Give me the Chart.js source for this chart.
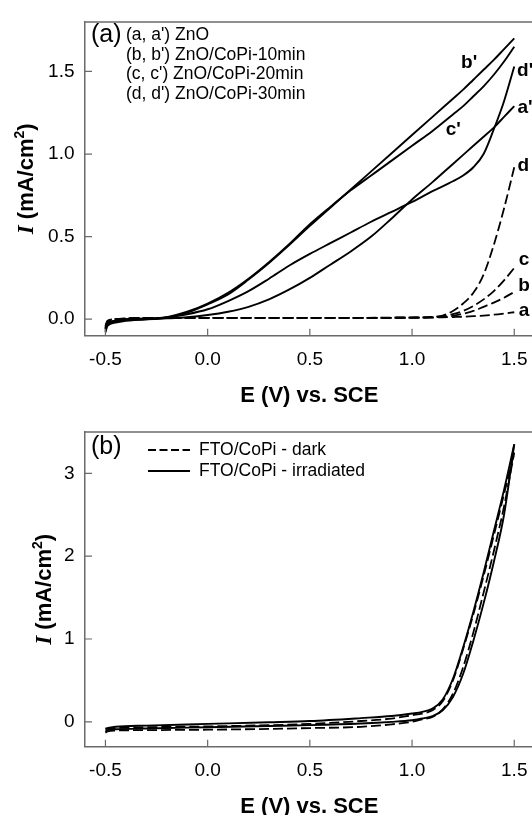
<!DOCTYPE html>
<html>
<head>
<meta charset="utf-8">
<script src="https://cdn.jsdelivr.net/npm/chart.js@4/dist/chart.umd.min.js"></script>
<style>
html,body{margin:0;padding:0;overflow:hidden;background:#fff;width:532px;height:815px;}
canvas{position:absolute;left:0;}
#ca{top:0;}
#cb{top:410px;}
</style>
</head>
<body>
<canvas id="ca" width="545" height="410" style="width:545px;height:410px"></canvas>
<canvas id="cb" width="545" height="405" style="width:545px;height:405px"></canvas>
<script>
// ---------------- DATA ----------------
// tick labels
const xTicks  = [-0.5, 0.0, 0.5, 1.0, 1.5];
const yTicksA = [0.0, 0.5, 1.0, 1.5];
const yTicksB = [0, 1, 2, 3];

// Panel (a): potential grid for irradiated (solid) curves, V vs SCE
const potLight = [-0.5,-0.49,-0.45,-0.4,-0.3,-0.2,-0.1,0,0.1,0.2,0.3,0.4,0.5,0.6,0.7,0.8,0.9,1.0,1.1,1.2,1.25,1.3,1.35,1.4,1.45,1.5];
const znoLight   = [-0.08,-0.04,-0.02,-0.01,0.0,0.005,0.012,0.025,0.045,0.075,0.12,0.18,0.25,0.33,0.41,0.50,0.61,0.725,0.83,0.94,0.995,1.05,1.105,1.16,1.225,1.29];   // a'
const copi10Light = [-0.06,-0.025,-0.01,0.0,0.003,0.01,0.04,0.09,0.15,0.24,0.34,0.45,0.565,0.675,0.785,0.895,1.005,1.115,1.225,1.335,1.39,1.45,1.51,1.57,1.635,1.70]; // b'
const copi20Light = [-0.06,-0.025,-0.01,0.0,0.003,0.012,0.045,0.095,0.16,0.245,0.345,0.455,0.575,0.68,0.78,0.87,0.96,1.05,1.14,1.24,1.29,1.35,1.41,1.48,1.56,1.65];   // c'
const copi30Light = [-0.07,-0.03,-0.015,-0.005,0.0,0.01,0.03,0.06,0.11,0.17,0.245,0.325,0.395,0.46,0.525,0.59,0.65,0.71,0.775,0.835,0.87,0.92,1.0,1.15,1.32,1.53];  // d'

// Panel (a): potential grid for dark (dashed) curves
const potDark = [-0.5,-0.49,-0.45,-0.4,-0.3,0,0.5,1.0,1.1,1.15,1.2,1.25,1.3,1.35,1.4,1.45,1.5];
const znoDark    = [-0.04,-0.01,0.0,0.004,0.006,0.008,0.008,0.009,0.01,0.011,0.013,0.015,0.018,0.022,0.027,0.034,0.042]; // a
const copi10Dark = [-0.045,-0.012,0.0,0.004,0.006,0.008,0.008,0.009,0.011,0.014,0.02,0.033,0.05,0.075,0.10,0.13,0.165]; // b
const copi20Dark = [-0.05,-0.015,0.0,0.004,0.006,0.008,0.008,0.009,0.012,0.017,0.03,0.05,0.08,0.12,0.17,0.235,0.31];    // c
const copi30Dark = [-0.055,-0.02,0.0,0.004,0.006,0.008,0.008,0.01,0.014,0.022,0.05,0.095,0.16,0.27,0.45,0.67,0.92];    // d

// Panel (b): FTO/CoPi, forward and reverse scans
const potB = [-0.5,-0.49,-0.45,-0.3,0,0.3,0.5,0.75,0.9,1.0,1.05,1.1,1.15,1.2,1.25,1.3,1.35,1.4,1.45,1.5];
const irrFwd  = [-0.12,-0.10,-0.09,-0.08,-0.065,-0.05,-0.04,-0.02,0.0,0.02,0.04,0.07,0.14,0.30,0.58,0.98,1.43,1.93,2.50,3.35];
const irrRev  = [-0.08,-0.075,-0.06,-0.045,-0.025,-0.005,0.01,0.045,0.07,0.10,0.12,0.16,0.27,0.52,0.90,1.33,1.80,2.30,2.80,3.35];
const darkFwd = [-0.13,-0.115,-0.105,-0.10,-0.095,-0.085,-0.075,-0.06,-0.03,0.0,0.03,0.06,0.15,0.34,0.66,1.08,1.56,2.06,2.60,3.25];
const darkRev = [-0.09,-0.085,-0.075,-0.065,-0.055,-0.04,-0.025,0.01,0.04,0.08,0.10,0.14,0.25,0.50,0.88,1.30,1.76,2.25,2.75,3.25];

// legend / curve label texts
const legendA = ["(a, a') ZnO", "(b, b') ZnO/CoPi-10min", "(c, c') ZnO/CoPi-20min", "(d, d') ZnO/CoPi-30min"];
const legendB = ["FTO/CoPi - dark", "FTO/CoPi - irradiated"];
const curveLabels = [
  {t:"b'", x:1.279, y:1.551}, {t:"d'", x:1.553, y:1.504}, {t:"c'", x:1.202, y:1.145},
  {t:"a'", x:1.553, y:1.28},  {t:"d",  x:1.544, y:0.928}, {t:"c",  x:1.548, y:0.357},
  {t:"b",  x:1.548, y:0.204}, {t:"a",  x:1.548, y:0.051}
];

// ---------------- STYLE / HELPERS ----------------
const FONT = '"Liberation Sans", Arial, Helvetica, sans-serif';
const SERIF = '"Liberation Serif", "Times New Roman", serif';
const AXIS = '#6a6a6a';
Chart.defaults.font.family = FONT;

function pts(xs, ys){ return xs.map((x,i)=>({x:x, y:ys[i]})); }
function ds(xs, ys, dashed){
  return { data: pts(xs, ys), borderColor:'#000', borderWidth: dashed ? 1.8 : 1.9,
           borderDash: dashed ? [10,4] : [], pointRadius:0, fill:false,
           cubicInterpolationMode:'monotone', showLine:true };
}

const decor = {
  id:'decor',
  afterDraw(chart, args, o){
    const {ctx, chartArea:ca} = chart;
    const xs = chart.scales.x, ys = chart.scales.y;
    ctx.save();
    // top frame line
    ctx.strokeStyle = AXIS; ctx.lineWidth = 1.5; ctx.setLineDash([]);
    ctx.beginPath(); ctx.moveTo(ca.left, ca.top); ctx.lineTo(ca.right, ca.top); ctx.stroke();
    // inward ticks
    ctx.lineWidth = 1.2;
    ctx.beginPath();
    xs.ticks.forEach(t=>{ const p = xs.getPixelForValue(t.value); ctx.moveTo(p, ca.bottom); ctx.lineTo(p, ca.bottom-7); });
    ys.ticks.forEach(t=>{ const p = ys.getPixelForValue(t.value); ctx.moveTo(ca.left, p); ctx.lineTo(ca.left+7, p); });
    ctx.stroke();
    // x title
    ctx.fillStyle = '#000';
    ctx.font = 'bold 22px ' + FONT;
    ctx.textAlign = 'center'; ctx.textBaseline = 'alphabetic';
    ctx.fillText('E (V) vs. SCE', (ca.left+ca.right)/2 - 0.5, ca.bottom + 66.5);
    // y title (rotated, italic I, superscript 2)
    const parts = [
      {t:'I', f:'italic bold 23px ' + SERIF, dy:0},
      {t:' (mA/cm', f:'bold 22px ' + FONT, dy:0},
      {t:'2', f:'bold 14px ' + FONT, dy:-9},
      {t:')', f:'bold 22px ' + FONT, dy:0}
    ];
    let W = 0;
    parts.forEach(p=>{ ctx.font = p.f; p.w = ctx.measureText(p.t).width; W += p.w; });
    ctx.translate(o.yTitleX, (ca.top+ca.bottom)/2);
    ctx.rotate(-Math.PI/2);
    ctx.textAlign = 'left';
    let cx = -W/2;
    parts.forEach(p=>{ ctx.font = p.f; ctx.fillText(p.t, cx, p.dy); cx += p.w; });
    ctx.restore();
    if (o.extra) o.extra(chart);
  }
};

function makeChart(id, H, caTop, caBottom, datasets, yMin, yMax, yTicks, yFmt, yTitleX, extra){
  const W = 545, right = 534.7;
  return new Chart(document.getElementById(id), {
    type:'line',
    data:{ datasets: datasets },
    options:{
      responsive:false, animation:false, devicePixelRatio:1,
      layout:{ padding:{ top:caTop, right:W-right, left:0, bottom:0 } },
      plugins:{ legend:{display:false}, tooltip:{enabled:false}, decor:{ yTitleX:yTitleX, extra:extra } },
      scales:{
        x:{ type:'linear', min:-0.6, max:1.6,
            grid:{display:false, drawTicks:false},
            border:{display:true, color:AXIS, width:1.5},
            ticks:{ font:{size:19, family:FONT}, color:'#000', padding:13, maxRotation:0, autoSkip:false,
                    callback:v=>Number(v).toFixed(1) },
            afterBuildTicks: s=>{ s.ticks = xTicks.map(v=>({value:v})); },
            afterFit: s=>{ s.height = H - caBottom; } },
        y:{ type:'linear', min:yMin, max:yMax,
            grid:{display:false, drawTicks:false},
            border:{display:true, color:AXIS, width:1.5},
            ticks:{ font:{size:19, family:FONT}, color:'#000', padding:10.5, autoSkip:false,
                    callback:yFmt },
            afterBuildTicks: s=>{ s.ticks = yTicks.map(v=>({value:v})); },
            afterFit: s=>{ s.width = 85; } }
      }
    },
    plugins:[decor]
  });
}

// ---------------- PANEL (a) ----------------
makeChart('ca', 410, 12.7, 335.7, [
    ds(potLight, znoLight, false), ds(potLight, copi10Light, false),
    ds(potLight, copi20Light, false), ds(potLight, copi30Light, false),
    ds(potDark, znoDark, true), ds(potDark, copi10Dark, true),
    ds(potDark, copi20Dark, true), ds(potDark, copi30Dark, true)
  ], -0.1, 1.8, yTicksA, v=>Number(v).toFixed(1), 33,
  function(chart){
    const ctx = chart.ctx, xs = chart.scales.x, ys = chart.scales.y;
    ctx.save();
    ctx.fillStyle = '#000';
    ctx.textBaseline = 'middle';
    ctx.textAlign = 'left';
    ctx.font = '25px ' + FONT;
    ctx.fillText('(a)', 91, 35);
    ctx.font = '17.5px ' + FONT;
    legendA.forEach((t,i)=>ctx.fillText(t, 126, 35 + i*19.7));
    ctx.font = 'bold 19px ' + FONT;
    ctx.textAlign = 'center';
    curveLabels.forEach(l=>ctx.fillText(l.t, xs.getPixelForValue(l.x), ys.getPixelForValue(l.y)));
    ctx.restore();
  });

// ---------------- PANEL (b) ----------------
makeChart('cb', 405, 14, 336.7, [
    ds(potB, darkFwd, true), ds(potB, darkRev, true),
    ds(potB, irrFwd, false), ds(potB, irrRev, false)
  ], -0.3, 3.5, yTicksB, v=>String(Math.round(v)), 51,
  function(chart){
    const ctx = chart.ctx;
    ctx.save();
    ctx.fillStyle = '#000';
    ctx.textBaseline = 'middle';
    ctx.textAlign = 'left';
    ctx.font = '25px ' + FONT;
    ctx.fillText('(b)', 91, 37.5);
    ctx.strokeStyle = '#000'; ctx.lineWidth = 1.8;
    ctx.setLineDash([8,3.5]);
    ctx.beginPath(); ctx.moveTo(148, 40); ctx.lineTo(190, 40); ctx.stroke();
    ctx.setLineDash([]);
    ctx.beginPath(); ctx.moveTo(148, 61); ctx.lineTo(190, 61); ctx.stroke();
    ctx.font = '17.5px ' + FONT;
    ctx.fillText(legendB[0], 199, 40);
    ctx.fillText(legendB[1], 199, 61.5);
    ctx.restore();
  });
</script>
</body>
</html>
